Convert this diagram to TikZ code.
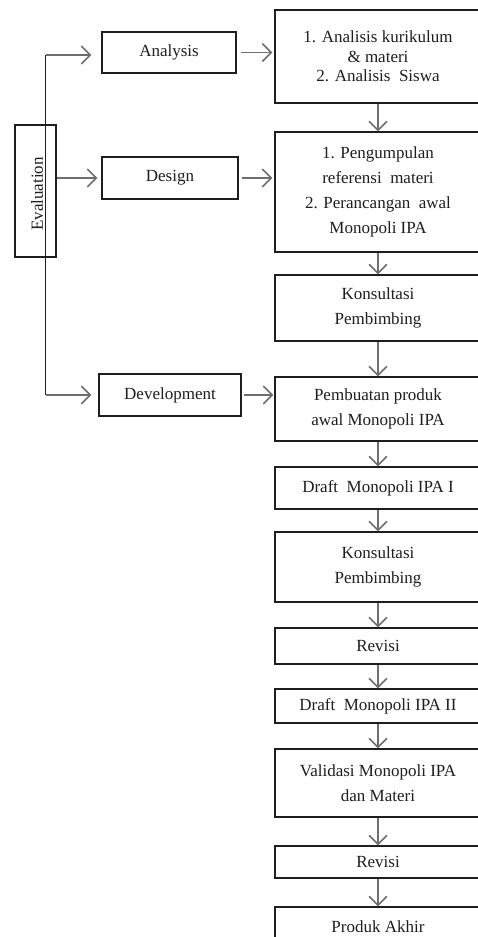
\documentclass[tikz,border=0pt]{standalone}
\usepackage{fontspec}
\setmainfont{Liberation Serif}
\usetikzlibrary{arrows.meta}
\definecolor{arrowgray}{HTML}{6E6E6E}
\definecolor{inkc}{HTML}{1E1E1E}
\tikzset{
  box/.style={draw=inkc, line width=1.3pt, rectangle, inner sep=0pt, align=center,
    text=inkc, font=\fontsize{17}{25}\selectfont},
  rbox/.style={box, minimum width=206pt},
  lbox/.style={box},
  flow/.style={draw=arrowgray, line width=1.5pt, -{Straight Barb[length=9pt,width=18pt,line width=1.5pt]}},
  evline/.style={draw=inkc, line width=1.3pt},
  plain/.style={text=inkc, font=\fontsize{17}{25}\selectfont, inner sep=0pt}
}
\begin{document}
\begin{tikzpicture}[x=1pt,y=-1pt]
\useasboundingbox (0,0) rectangle (478,937);
\clip (0,0) rectangle (478,937);
\fill[white] (0,0) rectangle (478,937);
% right column
\node[rbox, minimum height=93pt, font=\fontsize{17}{19.5}\selectfont] (a1) at (378,56.5) {1. Analisis kurikulum\\\& materi\\2. Analisis\ \ Siswa};
\node[rbox, minimum height=120pt] (d1) at (378,192) {1. Pengumpulan\\referensi\ \ materi\\2. Perancangan\ \ awal\\Monopoli IPA};
\node[rbox, minimum height=66pt] (k1) at (378,308) {Konsultasi\\Pembimbing};
\node[rbox, minimum height=64pt] (p1) at (378,409) {Pembuatan produk\\awal Monopoli IPA};
\node[rbox, minimum height=42pt] (dr1) at (378,488) {Draft\ \ Monopoli IPA I};
\node[rbox, minimum height=70pt] (k2) at (378,567) {Konsultasi\\Pembimbing};
\node[rbox, minimum height=36pt] (r1) at (378,646) {Revisi};
\node[rbox, minimum height=34pt] (dr2) at (378,706) {Draft\ \ Monopoli IPA II};
\node[rbox, minimum height=68pt] (v1) at (378,783) {Validasi Monopoli IPA\\dan Materi};
\node[rbox, minimum height=32pt] (r2) at (378,862) {Revisi};
\node[rbox, minimum height=50pt] (pa) at (378,932) {};
\node[plain, anchor=base] (pat) at (378,932) {Produk\ Akhir};
% left column
\node[lbox, minimum width=134pt, minimum height=41pt] (an) at (169,52.5) {Analysis};
\node[lbox, minimum width=136pt, minimum height=42pt] (de) at (170,178) {Design};
\node[lbox, minimum width=142pt, minimum height=42pt] (dv) at (170,395) {Development};
\node[lbox, minimum width=41pt, minimum height=132pt] (ev) at (35.5,191) {};
\node[plain, rotate=90] (evt) at (37,194) {Evaluation};
% evaluation line
\coordinate (ltop) at (45.7,55);
\coordinate (lbot) at (45.7,395);
\draw[evline] (ltop) -- (lbot);
\draw[flow, shorten >=10pt] (ltop) -- (ltop -| an.west);
\draw[flow, shorten >=4pt] (ev.east |- de.west) -- (de.west);
\draw[flow, shorten >=7pt] (lbot) -- (dv.west);
% horizontal arrows
\draw[flow, shorten <=4pt, shorten >=2pt] (an.east) -- (an.east -| a1.west);
\draw[flow, shorten <=3pt, shorten >=2pt] (de.east) -- (de.east -| d1.west);
\draw[flow, shorten <=2pt, shorten >=1pt] (dv.east) -- (dv.east -| p1.west);
% vertical arrows
\foreach \s/\t in {a1/d1, d1/k1, k1/p1, p1/dr1, dr1/k2, k2/r1, r1/dr2, dr2/v1, v1/r2, r2/pa}
  \draw[flow] (\s.south) -- (\t.north);
\end{tikzpicture}
\end{document}
